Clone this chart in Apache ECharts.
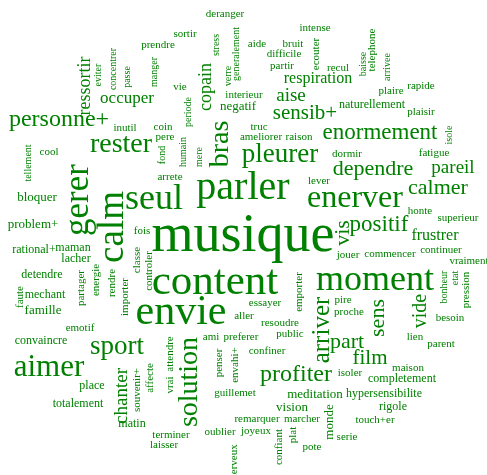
<!DOCTYPE html>
<html>
<head>
<meta charset="utf-8">
<script src="https://cdn.jsdelivr.net/npm/echarts@6/dist/echarts.min.js"></script>
<style>html,body{margin:0;padding:0;background:#fff}#c{width:487px;height:475px}</style>
</head>
<body>
<div id="c"></div>
<script>
// Word cloud layout: [word, x, y, fontSize]
const horizontalWords = [
['deranger',225,14,11],['sortir',185,34,11],['prendre',158,45,11],['aide',257,44,11],
['bruit',293,44,11],['intense',315,28,11],['difficile',284,54,11],['partir',282,66,11],
['recul',338,68,11],['plaire',391,91,11],['rapide',421,86,11],['respiration',318,79,16],
['naturellement',372,105,12],['plaisir',421,112,11],['fatigue',434,153,11],['aise',291,96,19],
['interieur',244,95,11],['negatif',238,107,13],['vie',180,87,11],['occuper',127,99,17],
['personne+',59,120,24],['inutil',125,128,11],['coin',163,127,11],['pere',165,137,11],
['rester',121,145,28],['cool',49,152,11],['pleurer',280,155,27],['ameliorer',261,137,11],
['raison',299,137,11],['truc',259,127,11],['sensib+',305,113,21],['enormement',380,133,23],
['dormir',347,154,11],['lever',319,181,11],['dependre',373,169,22],['pareil',453,168,19],
['calmer',438,188,22],['enerver',355,199,32],['honte',420,211,11],['superieur',458,218,11],
['positif',379,225,23],['frustrer',435,236,16],['jouer',348,255,11],['commencer',390,254,11],
['continuer',441,250,11],['vraiment',469,261,11],['moment',375,281,36],['essayer',265,303,11],
['pire',343,300,11],['proche',349,312,11],['besoin',450,318,11],['lien',415,337,11],
['parent',441,344,11],['part',347,342,22],['film',370,358,21],['maison',408,368,11],
['completement',402,379,12],['hypersensibilite',384,394,12],['rigole',393,407,12],
['touch+er',375,420,11],['serie',347,437,11],['pote',312,447,11],['marcher',302,419,11],
['remarquer',257,419,11],['vision',292,408,13],['meditation',315,395,13],['guillemet',235,393,11],
['isoler',350,373,11],['profiter',296,375,24],['confiner',267,351,11],['public',290,334,11],
['resoudre',280,323,11],['aller',244,316,11],['ami',211,337,11],['preferer',241,337,11],
['matin',132,424,12],['terminer',171,435,11],['laisser',164,445,11],['oublier',220,432,11],
['joyeux',256,431,11],['sport',117,347,27],['aimer',49,368,31],['emotif',80,328,11],
['convaincre',41,341,12],['place',92,386,12],['totalement',78,404,12],['famille',43,311,13],
['mechant',45,295,12],['detendre',42,275,12],['rational+',34,250,12],['maman',73,248,12],
['lacher',76,259,12],['problem+',33,225,13],['bloquer',37,198,13],['seul',154,200,36],
['arrete',170,177,11],['fois',142,231,11],['musique',243,237,54],['parler',243,188,40],
['content',215,283,43],['envie',181,313,42]
];
const verticalWords = [
['stress',216,45,10],['generalement',236,54,10],['ecouter',316,54,11],['baisse',363,64,10],
['telephone',372,50,11],['arrivee',387,67,10],['isole',449,135,10],['verre',228,76,10],
['copain',206,87,18],['periode',188,112,10],['manger',154,72,10],['passe',127,77,10],
['concentrer',113,69,10],['eviter',98,75,10],['ressortir',85,86,18],['humain',183,152,10],
['mere',199,157,10],['fond',162,155,10],['bras',221,144,28],['tellement',28,163,10],
['gerer',79,200,35],['calm',113,227,37],['vis',343,233,22],['classe',137,260,11],
['controler',149,271,11],['bonheur',444,287,10],['etat',455,278,10],['pression',466,290,11],
['emporter',299,292,11],['arriver',322,330,25],['sens',378,318,22],['vide',421,311,20],
['partager',81,288,11],['energie',96,280,11],['rendre',112,283,11],['importer',125,297,11],
['faute',20,297,11],['envahi+',235,365,11],['penser',219,363,11],['solution',190,382,28],
['attendre',170,354,11],['vrai',170,385,11],['affecte',150,378,11],['souvenir+',137,390,11],
['chanter',122,396,19],['monde',330,422,13],['plat',293,435,11],['confiant',279,447,11],
['nerveux',234,462,11]
];
const wordColor = '#008000';
const fontName = '"Liberation Serif", "Times New Roman", serif';

function toItems(list, rot) {
  return list.map(w => ({
    value: [w[1], w[2]],
    name: w[0],
    label: { formatter: w[0], fontSize: w[3], rotate: rot }
  }));
}

const chart = echarts.init(document.getElementById('c'), null, {renderer: 'canvas'});
chart.setOption({
  animation: false,
  backgroundColor: '#fff',
  grid: {left: 0, right: 0, top: 0, bottom: 0},
  xAxis: {type: 'value', min: 0, max: 487, show: false},
  yAxis: {type: 'value', min: 0, max: 475, inverse: true, show: false},
  series: [{
    type: 'scatter',
    symbolSize: 0,
    silent: true,
    itemStyle: {opacity: 1, color: wordColor},
    emphasis: {disabled: true},
    data: toItems(horizontalWords, 0).concat(toItems(verticalWords, 90)),
    label: {
      show: true,
      position: 'inside',
      align: 'center',
      verticalAlign: 'middle',
      color: wordColor,
      opacity: 1,
      fontFamily: fontName
    }
  }]
});
</script>
</body>
</html>
